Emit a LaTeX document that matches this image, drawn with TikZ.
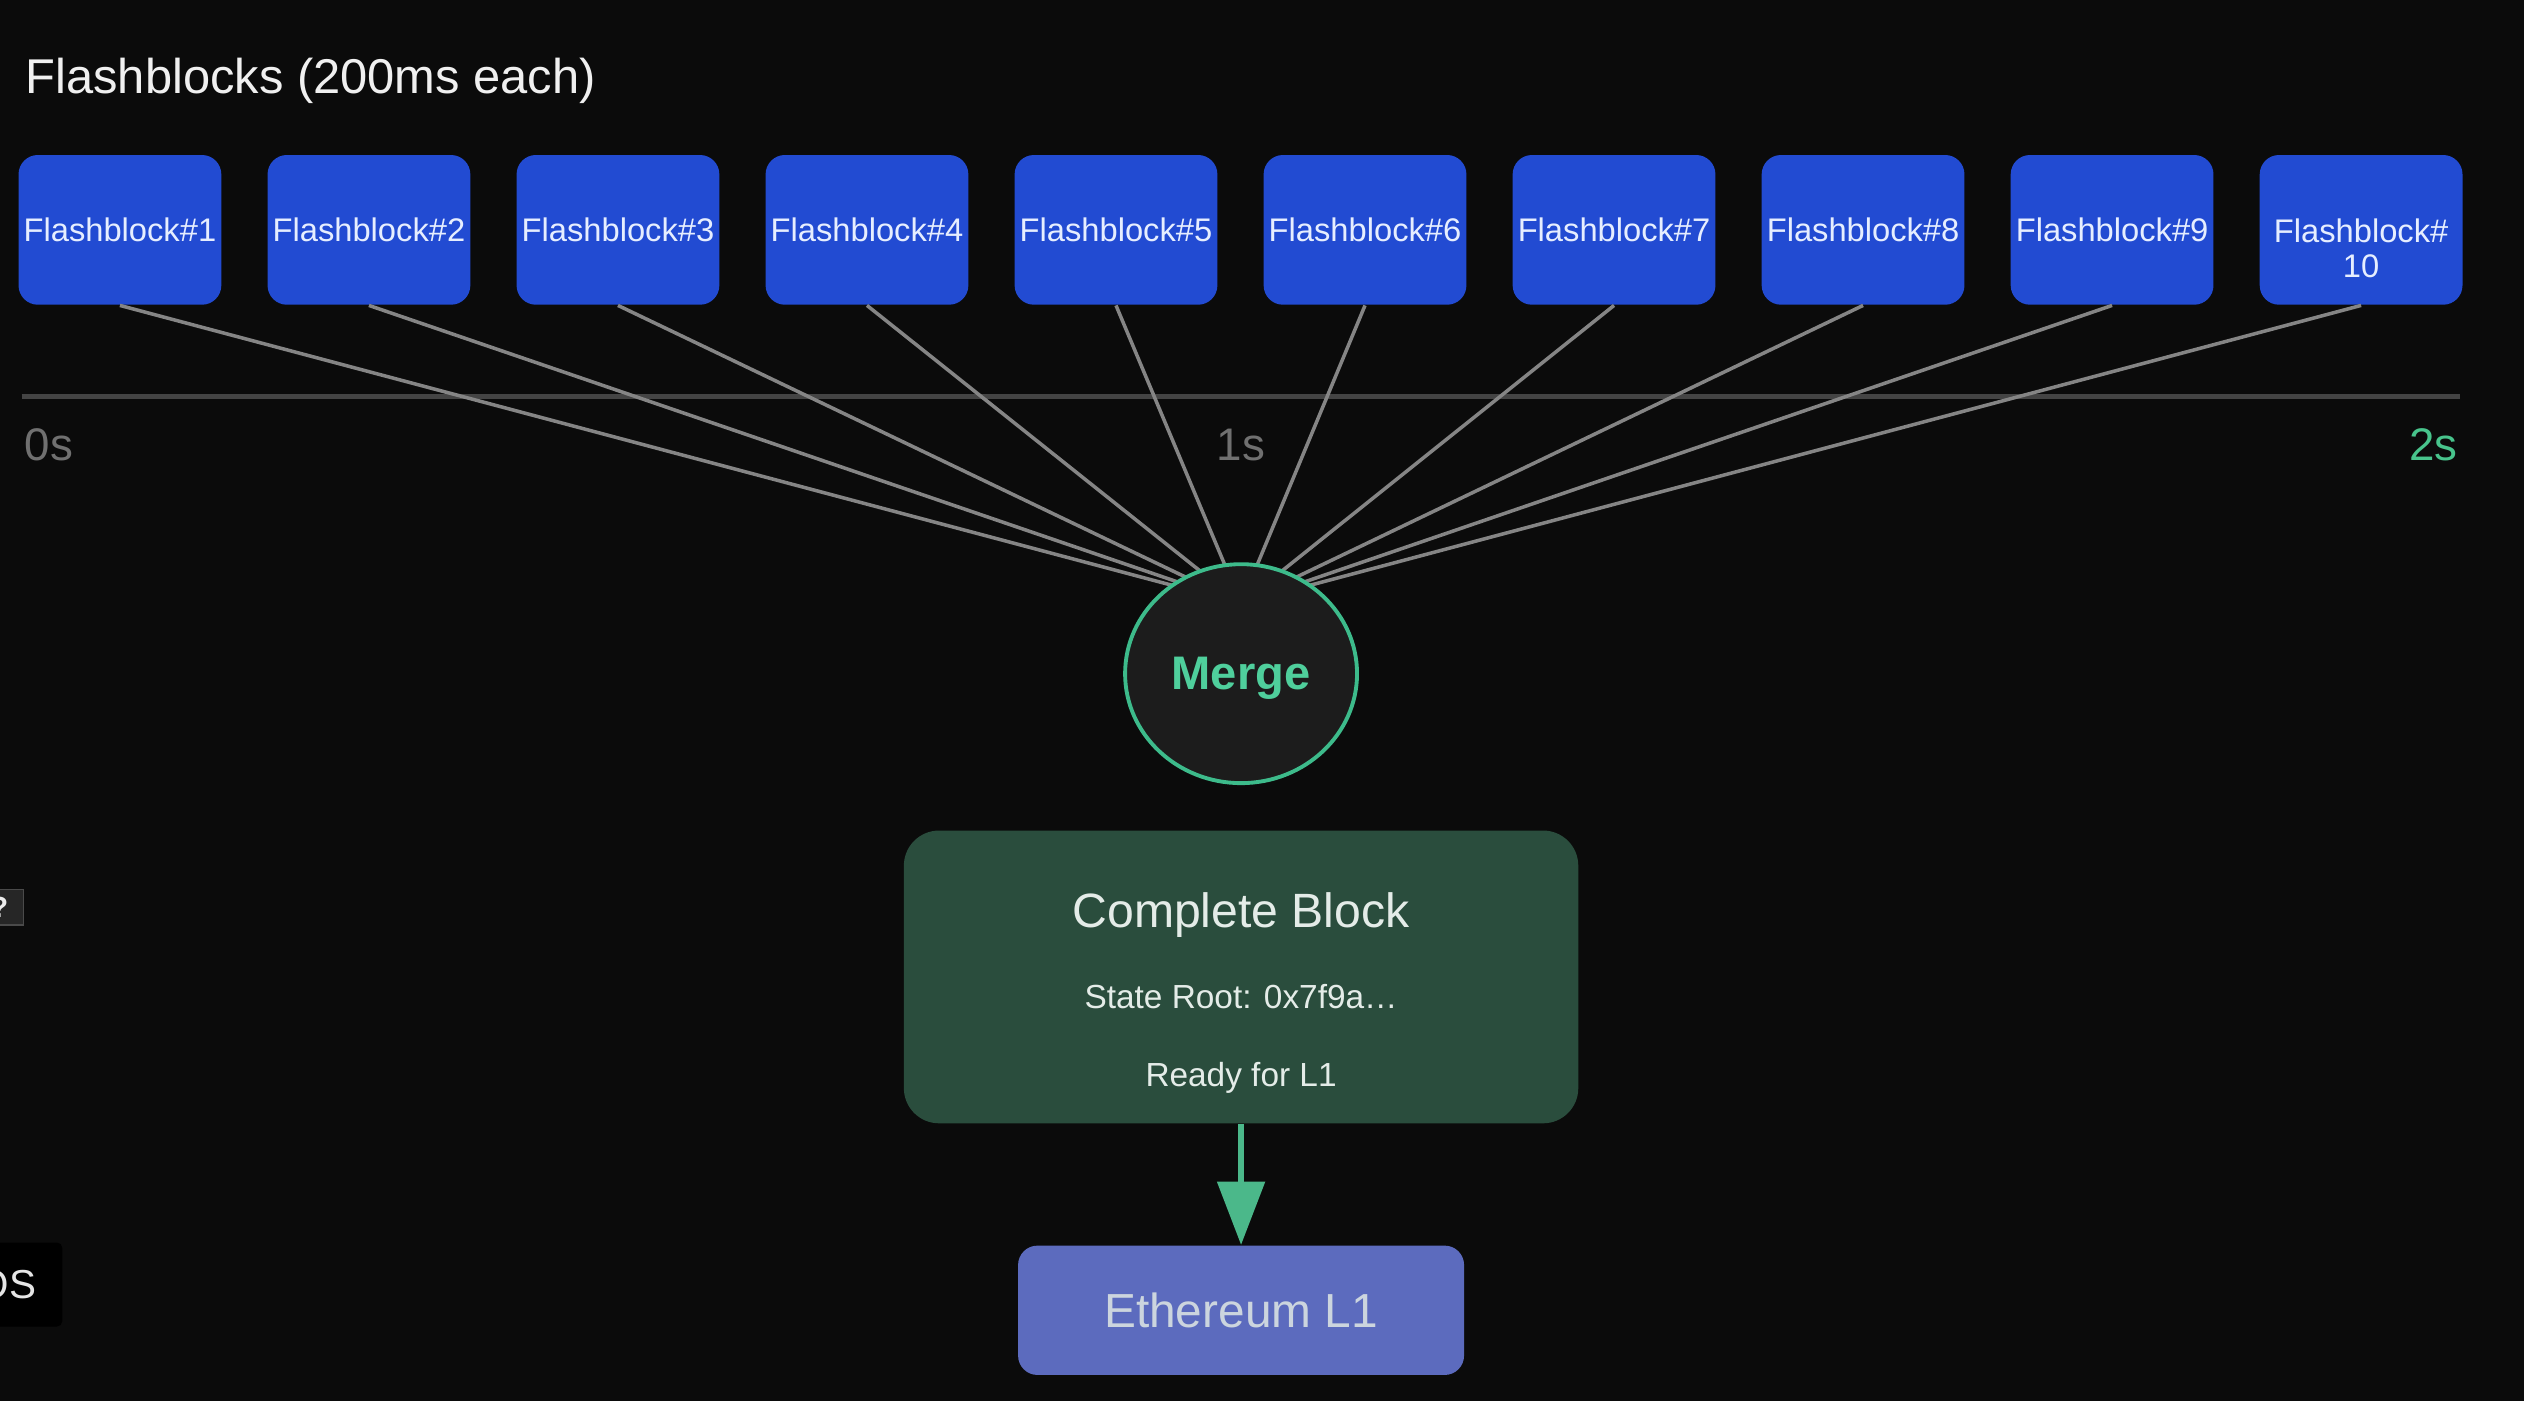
\documentclass[tikz,border=0pt]{standalone}
\usepackage{fontspec}
\setmainfont{Liberation Sans}
\usetikzlibrary{arrows.meta,shapes.geometric,calc}

\definecolor{bgdark}{HTML}{0B0B0B}
\definecolor{fbblue}{HTML}{224BD2}
\definecolor{fbtext}{HTML}{E6EEFF}
\definecolor{tgray}{HTML}{444444}
\definecolor{lgray}{HTML}{707070}
\definecolor{tgreen}{HTML}{48C48C}
\definecolor{fgray}{HTML}{858585}
\definecolor{mgreen}{HTML}{4FCF9C}
\definecolor{mring}{HTML}{3DBB8B}
\definecolor{mfill}{HTML}{1C1C1C}
\definecolor{cbgreen}{HTML}{2A4D3D}
\definecolor{cbtext}{HTML}{E4ECE8}
\definecolor{agreen}{HTML}{4BB88A}
\definecolor{ethblue}{HTML}{5C6BBE}
\definecolor{ethtext}{HTML}{CCD5DE}
\definecolor{qfill}{HTML}{262626}
\definecolor{qborder}{HTML}{4A4A4A}

\begin{document}
\begin{tikzpicture}
  [
    x=0.0160969cm, y=-0.0160969cm,
    fblock/.style =
      {fill=fbblue, rounded corners=5.5pt, minimum width=57.7pt, minimum height=42.6pt,
       inner sep=0pt, text=fbtext, font=\fontsize{9.3}{10}\selectfont},
    tlabel/.style =
      {inner sep=0pt, text=lgray, font=\fontsize{13}{15}\selectfont},
    fan/.style =
      {draw=fgray, line width=1pt},
    mnode/.style =
      {ellipse, draw=mring, line width=1.1pt, fill=mfill, minimum width=66pt,
       minimum height=62.3pt, text=mgreen, text depth=0pt,
       font=\bfseries\fontsize{13.4}{16}\selectfont},
    done/.style =
      {fill=cbgreen, rounded corners=10pt, minimum width=191.9pt, minimum height=83.3pt},
    cbline/.style =
      {inner sep=0pt, text=cbtext, font=\fontsize{9.5}{11}\selectfont},
    ethbox/.style =
      {fill=ethblue, rounded corners=5.5pt, minimum width=126.9pt, minimum height=36.8pt,
       text=ethtext, font=\fontsize{13.6}{16}\selectfont},
    sarrow/.style =
      {-{Triangle[length=18pt, width=13.3pt]}, draw=agreen, line width=1.7pt}
  ]

\useasboundingbox (0,0) rectangle (1568,870);
\fill[bgdark] (-10,-10) rectangle (1578,880);

\node[anchor=base west, inner sep=0pt, text=white!94!black,
      font=\fontsize{13.9}{16}\selectfont] (title) at (15.5,58) {Flashblocks (200ms each)};

% flashblocks
\foreach \i in {1,...,9}
  \node[fblock] (fb\i) at ({74.5+154.7*(\i-1)},142.8) {Flashblock\#\i};
\node[fblock, text depth=0pt] (fb10) at (1466.8,142.8)
  {\begin{tabular}[t]{@{}c@{}}Flashblock\#\\10\end{tabular}};

% timeline
\coordinate (t0) at (13.5,246.4);
\coordinate (t2) at (1528,246.4);
\draw[tgray, line width=1.4pt] (t0) -- (t2);

\node[tlabel, anchor=base west] (s0) at (15,286) {0s};
\node[tlabel, anchor=base] (s1) at (771,286) {1s};
\node[tlabel, anchor=base east, text=tgreen] (s2) at (1527,286) {2s};

% fan into merge
\coordinate (hub) at (771,375);
\foreach \i in {1,...,10}
  \draw[fan] (fb\i.south) -- (hub);

\node[mnode] (merge) at (771,418.5) {Merge};

% complete block
\node[done] (cb) at (771,606.9) {};
\node[cbline, anchor=base, font=\fontsize{13.7}{16}\selectfont] (cbt) at (771,576) {Complete Block};
\node[cbline, anchor=base] (cbr) at (771,626.6) {State Root: 0x7f9a…};
\node[cbline, anchor=base] (cbl) at (771,675) {Ready for L1};

\node[ethbox] (eth) at (771,814) {Ethereum L1};
\draw[sarrow] (cb) -- (eth);

% overlays at the left edge
\begin{scope}
  \clip (0,0) rectangle (1568,870);
  \node[draw=qborder, line width=0.4pt, fill=qfill, minimum width=13.7pt, minimum height=10.1pt,
        inner sep=0pt, text=white!92!black, font=\bfseries\fontsize{8.3}{10}\selectfont]
        (qbox) at (-0.5,563.5) {?};
  \node[fill=black, rounded corners=1.5pt, minimum width=31.4pt, minimum height=23.9pt,
        inner sep=0pt, text=white!90!black, font=\fontsize{11.5}{13}\selectfont]
        (osbox) at (4.4,798) {OS};
\end{scope}

\end{tikzpicture}
\end{document}
